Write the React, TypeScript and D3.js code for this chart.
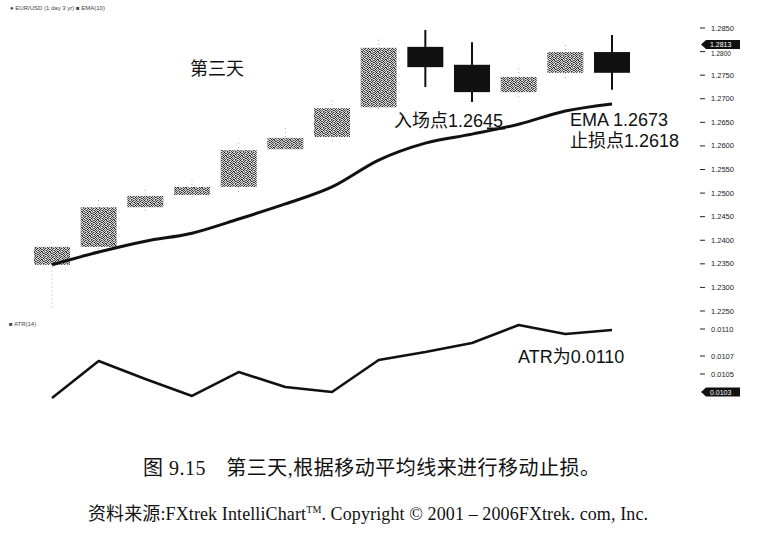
import React from "react";
import * as d3 from "d3";

// ---- data ----
const days = ["D1", "D2", "D3", "D4", "D5", "D6", "D7", "D8", "D9", "D10", "D11", "D12", "D13"];
const opens = [1.2348, 1.2386, 1.2470, 1.2496, 1.2513, 1.2593, 1.2619, 1.2682, 1.2810, 1.2772, 1.2714, 1.2755, 1.2799];
const highs = [1.2395, 1.2485, 1.2507, 1.2528, 1.2606, 1.2638, 1.2697, 1.2825, 1.2846, 1.2820, 1.2765, 1.2814, 1.2835];
const lows = [1.2255, 1.2369, 1.2460, 1.2485, 1.2502, 1.2587, 1.2608, 1.2676, 1.2725, 1.2693, 1.2702, 1.2740, 1.2719];
const closes = [1.2386, 1.2470, 1.2494, 1.2513, 1.2591, 1.2617, 1.2680, 1.2808, 1.2767, 1.2714, 1.2746, 1.2799, 1.2755];
const ema = [1.2348, 1.2375, 1.2398, 1.2415, 1.2445, 1.2477, 1.2513, 1.2570, 1.2606, 1.2625, 1.2646, 1.2674, 1.2689];
const atr = [0.010233, 0.010644, 0.010444, 0.010256, 0.010522, 0.010356, 0.0103, 0.010656, 0.010744, 0.010844, 0.011044, 0.010944, 0.010989];

const priceTicks = [1.2850, 1.2800, 1.2750, 1.2700, 1.2650, 1.2600, 1.2550, 1.2500, 1.2450, 1.2400, 1.2350, 1.2300, 1.2250];
const atrTicks = [0.0110, 0.0107, 0.0105];
const lastPrice = 1.2813;
const lastAtr = 0.0103;

const legendTop = "\u25CF EUR/USD (1 day  3 yr)   \u25A0 EMA(10)";
const legendAtr = "\u25A0 ATR(14)";
const dayLabel = "第三天";
const entryLabel = "入场点1.2645";
const emaLabel = "EMA 1.2673";
const stopLabel = "止损点1.2618";
const atrLabel = "ATR为0.0110";
const caption = "图 9.15　第三天,根据移动平均线来进行移动止损。";
const source = "资料来源:FXtrek IntelliChart";
const sourceTail = ". Copyright © 2001 – 2006FXtrek. com, Inc.";

// stipple texture for the grey (rising) candle bodies: [x, y, shade] in an 8x8 tile
const stipple: [number, number, string][] = [
  [0, 0, "#222"], [3, 0, "#555"], [5, 0, "#333"], [6, 0, "#888"],
  [1, 1, "#444"], [2, 1, "#777"], [4, 1, "#222"], [7, 1, "#555"],
  [0, 2, "#666"], [3, 2, "#333"], [5, 2, "#999"], [6, 2, "#222"],
  [1, 3, "#222"], [2, 3, "#555"], [4, 3, "#666"], [7, 3, "#333"],
  [0, 4, "#444"], [2, 4, "#222"], [5, 4, "#444"], [6, 4, "#777"],
  [1, 5, "#888"], [3, 5, "#222"], [4, 5, "#555"], [7, 5, "#222"],
  [0, 6, "#333"], [2, 6, "#666"], [5, 6, "#222"], [6, 6, "#555"],
  [1, 7, "#555"], [3, 7, "#444"], [4, 7, "#888"], [7, 7, "#444"],
];

export default function App() {
  const W = 776;
  const H = 538;
  const x = d3.scaleLinear().domain([0, days.length - 1]).range([52, 612]);
  const y = d3.scaleLinear().domain([1.2250, 1.2850]).range([311, 28]);
  const ya = d3.scaleLinear().domain([0.0103, 0.0110]).range([392, 329]);
  const fmt = d3.format(".4f");
  const bw = 36;

  const emaLine = d3
    .line<number>()
    .x((_, i) => x(i))
    .y((d) => y(d))
    .curve(d3.curveMonotoneX)(ema) as string;
  const atrLine = d3
    .line<number>()
    .x((_, i) => x(i))
    .y((d) => ya(d))(atr) as string;

  const sans = "'Liberation Sans', Arial, 'Noto Sans CJK SC', sans-serif";
  const serif = "'Liberation Serif', 'Times New Roman', 'Noto Sans CJK SC', serif";

  const marker = (cy: number) =>
    `M701,${cy} L706,${cy - 4.5} L740,${cy - 4.5} L740,${cy + 4.5} L706,${cy + 4.5} Z`;

  return (
    <svg
      width={W}
      height={H}
      style={{ position: "absolute", left: 0, top: 0, background: "#fff" }}
    >
      <defs>
        <pattern id="dither" width="8" height="8" patternUnits="userSpaceOnUse">
          <rect width="8" height="8" fill="#d4d4d4" />
          {stipple.map(([px, py, c], k) => (
            <rect key={k} x={px} y={py} width={1} height={1} fill={c} />
          ))}
        </pattern>
      </defs>

      {/* legends */}
      <text x={10} y={10} fontSize={6} fill="#444" fontFamily={sans}>{legendTop}</text>
      <text x={9} y={326} fontSize={6} fill="#444" fontFamily={sans}>{legendAtr}</text>

      {/* candles */}
      {days.map((d, i) => {
        const up = closes[i] > opens[i];
        const top = y(Math.max(opens[i], closes[i]));
        const bot = y(Math.min(opens[i], closes[i]));
        return (
          <g key={d}>
            <line
              x1={x(i)}
              x2={x(i)}
              y1={y(highs[i])}
              y2={y(lows[i])}
              stroke={up ? "#aaa" : "#111"}
              strokeWidth={up ? 1 : 2}
              strokeDasharray={up ? "1 3" : undefined}
            />
            <rect
              x={x(i) - bw / 2}
              y={top}
              width={bw}
              height={Math.max(1, bot - top)}
              fill={up ? "url(#dither)" : "#111"}
            />
          </g>
        );
      })}

      {/* EMA */}
      <path d={emaLine} fill="none" stroke="#111" strokeWidth={3} strokeLinejoin="round" />
      <line x1={487} x2={505} y1={128.5} y2={128.5} stroke="#111" strokeWidth={2} />

      {/* ATR */}
      <path d={atrLine} fill="none" stroke="#111" strokeWidth={2.5} strokeLinejoin="round" />

      {/* right axis price */}
      {priceTicks.map((t) => (
        <g key={t}>
          <line x1={700} x2={705} y1={y(t)} y2={y(t)} stroke="#222" strokeWidth={1} />
          <text
            x={711}
            y={y(t) + (t === 1.28 ? 4 : 2.5)}
            fontSize={t === 1.28 ? 6.5 : 7.5}
            fill="#222"
            fontFamily={sans}
          >
            {fmt(t)}
          </text>
        </g>
      ))}
      {atrTicks.map((t) => (
        <g key={t}>
          <line x1={700} x2={705} y1={ya(t)} y2={ya(t)} stroke="#222" strokeWidth={1} />
          <text x={711} y={ya(t) + 2.5} fontSize={7.5} fill="#222" fontFamily={sans}>{fmt(t)}</text>
        </g>
      ))}

      {/* current value markers */}
      <g>
        <path d={marker(y(lastPrice) - 1)} fill="#111" />
        <text x={710} y={y(lastPrice) + 1.5} fontSize={7} fill="#fff" fontFamily={sans}>{fmt(lastPrice)}</text>
      </g>
      <g>
        <path d={marker(ya(lastAtr))} fill="#111" />
        <text x={710} y={ya(lastAtr) + 2.5} fontSize={7} fill="#fff" fontFamily={sans}>{fmt(lastAtr)}</text>
      </g>

      {/* annotations */}
      <text x={190} y={75} fontSize={18} fill="#111" fontFamily={sans}>{dayLabel}</text>
      <text x={394} y={127} fontSize={18} fill="#111" fontFamily={sans}>{entryLabel}</text>
      <text x={570} y={126} fontSize={18} fill="#111" fontFamily={sans}>{emaLabel}</text>
      <text x={570} y={147} fontSize={18} fill="#111" fontFamily={sans}>{stopLabel}</text>
      <text x={518} y={363} fontSize={18} fill="#111" fontFamily={sans}>{atrLabel}</text>

      {/* caption */}
      <text x={143} y={475} fontSize={20} fill="#111" fontFamily={serif} textLength={457} lengthAdjust="spacing">
        {caption}
      </text>
      <text
        x={88}
        y={520}
        fontSize={18}
        fill="#111"
        fontFamily={serif}
        textLength={560}
        lengthAdjust="spacing"
      >
        {source}
        <tspan fontSize={10} dy={-7}>TM</tspan>
        <tspan dy={7}>{sourceTail}</tspan>
      </text>
    </svg>
  );
}
